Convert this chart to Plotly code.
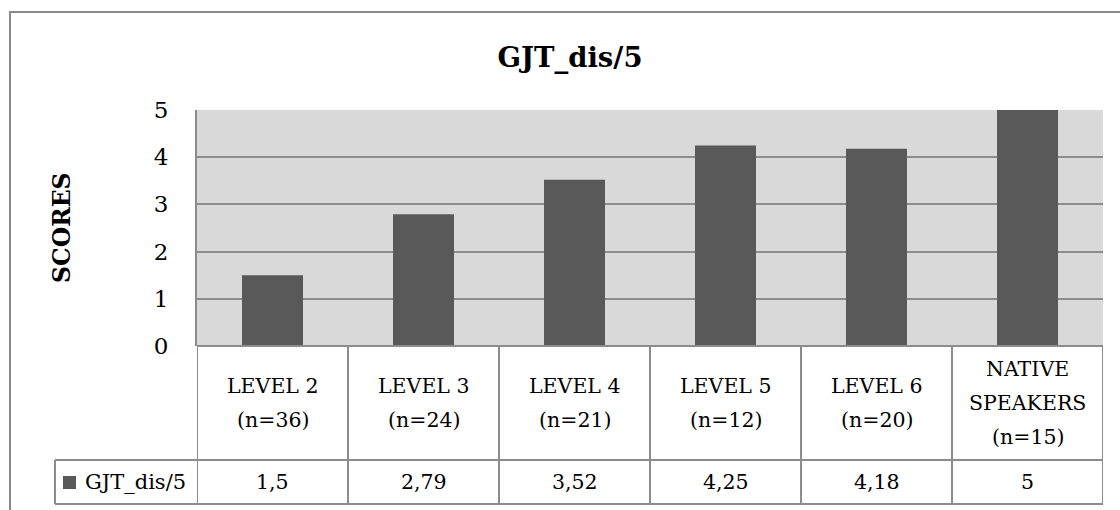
import plotly.graph_objects as go

# Chart data
categories = ["LEVEL 2 (n=36)", "LEVEL 3 (n=24)", "LEVEL 4 (n=21)",
              "LEVEL 5 (n=12)", "LEVEL 6 (n=20)", "NATIVE SPEAKERS (n=15)"]
category_lines = [["LEVEL 2", "(n=36)"], ["LEVEL 3", "(n=24)"], ["LEVEL 4", "(n=21)"],
                  ["LEVEL 5", "(n=12)"], ["LEVEL 6", "(n=20)"], ["NATIVE", "SPEAKERS", "(n=15)"]]
scores = [1.5, 2.79, 3.52, 4.25, 4.18, 5]
series_name = "GJT_dis/5"
y_ticks = [0, 1, 2, 3, 4, 5]

# Canvas geometry (pixels)
W, H = 1120, 510
PL, PR, PT, PB = 197, 1103, 110, 346
FONT = "DejaVu Serif, Liberation Serif, serif"
LINE = "#8c8c8c"
BAR = "#595959"


def px_x(px):
    return (px - PL) / (PR - PL)


def px_y(py):
    return (PB - py) / (PB - PT)


def fmt(v):
    return f"{v:g}".replace(".", ",")


fig = go.Figure(go.Bar(
    x=categories, y=scores, name=series_name,
    marker=dict(color=BAR, line=dict(width=0)), width=0.404,
))

shapes = []
annotations = []

# chart frame
shapes.append(dict(type="rect", xref="paper", yref="paper",
                   x0=px_x(10), x1=px_x(1135), y0=px_y(12), y1=px_y(525),
                   line=dict(color="#8a8a8a", width=2), layer="below"))

# data table grid
head_bot, row_bot, key_left = 460, 504, 55
shapes.append(dict(type="line", xref="x", yref="paper", x0=-0.5, x1=5.5, y0=0, y1=0,
                   line=dict(color=LINE, width=2)))
for py in (head_bot, row_bot):
    shapes.append(dict(type="line", xref="paper", yref="paper", x0=px_x(key_left), x1=1,
                       y0=px_y(py), y1=px_y(py), line=dict(color=LINE, width=2)))
for i in range(len(categories) + 1):
    shapes.append(dict(type="line", xref="x", yref="paper", x0=i - 0.5, x1=i - 0.5,
                       y0=0, y1=px_y(row_bot), line=dict(color=LINE, width=2)))
shapes.append(dict(type="line", xref="paper", yref="paper", x0=px_x(key_left), x1=px_x(key_left),
                   y0=px_y(head_bot), y1=px_y(row_bot), line=dict(color=LINE, width=2)))

# legend key in the table
shapes.append(dict(type="rect", xref="paper", yref="paper", x0=px_x(63), x1=px_x(76),
                   y0=px_y(489), y1=px_y(476), fillcolor=BAR, line=dict(width=0)))
annotations.append(dict(text=series_name, xref="paper", yref="paper", x=px_x(83),
                        y=px_y(482), xanchor="left", yanchor="middle", showarrow=False,
                        font=dict(family=FONT, size=21, color="black")))

# header cells and values
head_mid = (PB + head_bot) / 2
for cat, lines, v in zip(categories, category_lines, scores):
    n = len(lines)
    for k, ln in enumerate(lines):
        annotations.append(dict(text=ln, xref="x", yref="paper", x=cat, y=px_y(head_mid),
                                yshift=-(k - (n - 1) / 2) * 34, xanchor="center",
                                yanchor="middle", showarrow=False,
                                font=dict(family=FONT, size=20.5, color="black")))
    annotations.append(dict(text=fmt(v), xref="x", yref="paper", x=cat, y=px_y(482),
                            xanchor="center", yanchor="middle", showarrow=False,
                            font=dict(family=FONT, size=20.5, color="black")))

# y-axis title
annotations.append(dict(text="<b>SCORES</b>", xref="paper", yref="paper", x=px_x(62), y=0.5,
                        textangle=-90, xanchor="center", yanchor="middle", showarrow=False,
                        font=dict(family=FONT, size=23.5, color="black")))

fig.update_layout(
    width=W, height=H,
    margin=dict(l=PL, r=W - PR, t=PT, b=H - PB, pad=0),
    paper_bgcolor="white", plot_bgcolor="#d9d9d9",
    showlegend=False,
    title=dict(text="<b>GJT_dis/5</b>", x=570 / W, xanchor="center", xref="container",
               y=1 - 57 / H, yanchor="middle", yref="container",
               font=dict(family=FONT, size=27.5, color="black")),
    xaxis=dict(range=[-0.5, 5.5], showticklabels=False, showgrid=False, zeroline=False,
               showline=False, ticks=""),
    yaxis=dict(range=[0, 5], tickvals=y_ticks, showgrid=True, gridcolor=LINE, gridwidth=2,
               zeroline=False, showline=True, linecolor=LINE, linewidth=2, ticks="",
               ticklabelstandoff=22, tickfont=dict(family=FONT, size=23, color="black")),
    shapes=shapes, annotations=annotations,
)

fig.write_html("out.html")
